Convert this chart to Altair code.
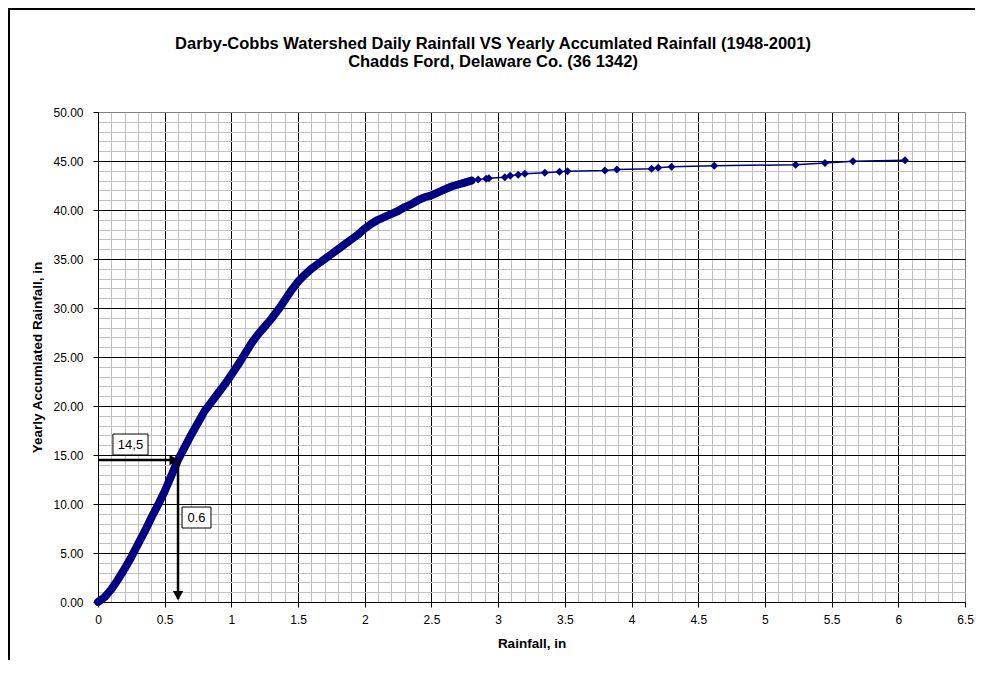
import altair as alt
import pandas as pd

# ---- data ----
rain = [0.00, 0.05, 0.10, 0.15, 0.20, 0.25, 0.30, 0.35, 0.40, 0.45, 0.50, 0.55,
        0.60, 0.65, 0.70, 0.75, 0.80, 0.85, 0.90, 0.95, 1.00, 1.05, 1.10, 1.15,
        1.20, 1.25, 1.30, 1.35, 1.40, 1.45, 1.50, 1.55, 1.60, 1.65, 1.70, 1.75,
        1.80, 1.85, 1.90, 1.95, 2.00, 2.05, 2.10, 2.15, 2.20, 2.25, 2.30, 2.35,
        2.40, 2.45, 2.50, 2.55, 2.60, 2.65, 2.70, 2.75, 2.80,
        2.85, 2.91, 2.93, 3.05, 3.09, 3.15, 3.20, 3.35, 3.46, 3.52, 3.80, 3.89,
        4.15, 4.20, 4.30, 4.62, 5.23, 5.45, 5.66, 6.05]
accum = [0.0, 0.5, 1.3, 2.3, 3.4, 4.6, 5.9, 7.2, 8.6, 9.9, 11.3, 12.9,
         14.5, 15.8, 17.1, 18.3, 19.5, 20.4, 21.3, 22.2, 23.2, 24.2, 25.3, 26.4,
         27.3, 28.1, 28.9, 29.8, 30.8, 31.8, 32.7, 33.4, 34.0, 34.5, 35.0, 35.5,
         36.0, 36.5, 37.0, 37.5, 38.1, 38.6, 39.0, 39.3, 39.6, 39.9, 40.3, 40.6,
         41.0, 41.3, 41.5, 41.8, 42.1, 42.4, 42.6, 42.8, 43.0,
         43.1, 43.2, 43.25, 43.35, 43.5, 43.6, 43.7, 43.8, 43.9, 43.95, 44.04, 44.14,
         44.21, 44.32, 44.42, 44.52, 44.62, 44.79, 44.97, 45.07]

title_line1 = "Darby-Cobbs Watershed Daily Rainfall VS Yearly Accumlated Rainfall (1948-2001)"
title_line2 = "Chadds Ford, Delaware Co. (36 1342)"

# annotation arrows (data coordinates)
arrow_x = [0.0, 0.6]
arrow_x2 = [0.585, 0.6]
arrow_y = [14.5, 14.5]
arrow_y2 = [14.5, 0.3]
head_x = [0.57, 0.6]
head_y = [14.5, 0.65]
head_shape = ["triangle-right", "triangle-down"]

# annotation label boxes
box_label = ["14,5", "0.6"]
box_x1 = [0.112, 0.63]
box_x2 = [0.375, 0.847]
box_y1 = [15.0, 7.55]
box_y2 = [17.14, 9.69]

x_ticks = [round(i * 0.1, 1) for i in range(66)]
y_ticks = list(range(0, 51))

df = pd.DataFrame({"x": rain, "y": accum})
arrows = pd.DataFrame({"x": arrow_x, "x2": arrow_x2, "y": arrow_y, "y2": arrow_y2})
heads = pd.DataFrame({"x": head_x, "y": head_y, "shape": head_shape})
boxes = pd.DataFrame({"label": box_label, "x": box_x1, "x2": box_x2,
                      "y": box_y1, "y2": box_y2})
boxes["xc"] = (boxes["x"] + boxes["x2"]) / 2
boxes["yc"] = (boxes["y"] + boxes["y2"]) / 2

FONT = "Liberation Sans"
NAVY = "#000080"

x_major = "abs(datum.value*2 - round(datum.value*2)) < 0.000001"
y_major = "abs(datum.value/5 - round(datum.value/5)) < 0.000001"

x_scale = alt.Scale(domain=[0, 6.5], nice=False, zero=False)
y_scale = alt.Scale(domain=[0, 50], nice=False, zero=False)

x_axis = alt.Axis(
    values=x_ticks, tickCount=len(x_ticks), title="Rainfall, in",
    labelExpr=f"{x_major} ? datum.label : ''",
    format="~g", labelOverlap=False, labelFlush=False,
    grid=True,
    gridColor={"condition": [{"test": "datum.value > 6.45", "value": "#808080"},
                             {"test": x_major, "value": "#000000"}],
               "value": "#c0c0c0"},
    gridWidth=1,
    tickColor={"condition": {"test": x_major, "value": "#000000"}, "value": "transparent"},
    tickSize=5, domainColor="#000000", domainWidth=1,
    labelFont=FONT, labelFontSize=12, labelColor="#000000", labelPadding=7,
    titleFont=FONT, titleFontSize=13.5, titleFontWeight="bold", titleColor="#000000",
    titlePadding=11,
)
y_axis = alt.Axis(
    values=y_ticks, tickCount=len(y_ticks), title="Yearly Accumlated Rainfall, in",
    labelExpr=f"{y_major} ? datum.label : ''",
    format=".2f", labelOverlap=False, labelFlush=False,
    grid=True,
    gridColor={"condition": [{"test": "datum.value > 49.5", "value": "#808080"},
                             {"test": y_major, "value": "#000000"}],
               "value": "#c0c0c0"},
    gridWidth=1,
    tickColor={"condition": {"test": y_major, "value": "#000000"}, "value": "transparent"},
    tickSize=5, domainColor="#000000", domainWidth=1,
    labelFont=FONT, labelFontSize=12, labelColor="#000000", labelPadding=10,
    titleFont=FONT, titleFontSize=13.5, titleFontWeight="bold", titleColor="#000000",
    titlePadding=8,
)

base = alt.Chart(df).encode(
    x=alt.X("x:Q", scale=x_scale, axis=x_axis),
    y=alt.Y("y:Q", scale=y_scale, axis=y_axis),
)

dense = base.transform_filter("datum.x <= 2.82").mark_line(
    color=NAVY, strokeWidth=8, strokeJoin="round", strokeCap="round")
thin = base.mark_line(color=NAVY, strokeWidth=1.5)
pts = base.mark_point(shape="diamond", filled=True, color=NAVY, size=64, opacity=1)

rules = alt.Chart(arrows).mark_rule(color="black", strokeWidth=2.5).encode(
    x=alt.X("x:Q", scale=x_scale), x2="x2:Q",
    y=alt.Y("y:Q", scale=y_scale), y2="y2:Q",
)
arrowheads = alt.Chart(heads).mark_point(filled=True, color="black", size=110, opacity=1).encode(
    x=alt.X("x:Q", scale=x_scale), y=alt.Y("y:Q", scale=y_scale),
    shape=alt.Shape("shape:N", scale=None, legend=None),
)
box_rects = alt.Chart(boxes).mark_rect(fill="white", stroke="black", strokeWidth=1).encode(
    x=alt.X("x:Q", scale=x_scale), x2="x2:Q",
    y=alt.Y("y:Q", scale=y_scale), y2="y2:Q",
)
box_text = alt.Chart(boxes).mark_text(font=FONT, fontSize=13, color="black",
                                      align="center", baseline="middle").encode(
    x=alt.X("xc:Q", scale=x_scale), y=alt.Y("yc:Q", scale=y_scale),
    text="label:N",
)

def title_layer(txt, ypix):
    return alt.Chart(pd.DataFrame({"t": [txt]})).mark_text(
        font=FONT, fontSize=16.5, fontWeight="bold", color="black",
        align="center", baseline="middle").encode(
        x=alt.value(395), y=alt.value(ypix), text="t:N")

t1 = title_layer(title_line1, -68)
t2 = title_layer(title_line2, -50)

frame = alt.Chart(pd.DataFrame({"k": [0]})).mark_rect(
    filled=False, stroke="black", strokeWidth=2).encode(
    x=alt.value(-89), x2=alt.value(920), y=alt.value(-103), y2=alt.value(620),
)

chart = alt.layer(
    frame, dense, thin, pts, rules, arrowheads, box_rects, box_text, t1, t2
).properties(
    width=867, height=490,
    autosize=alt.AutoSizeParams(type="none"),
    padding={"left": 90, "top": 104, "right": 10, "bottom": 58},
).configure_view(stroke="#808080", strokeWidth=1).configure(background="white")

chart.save("out.html", embed_options={"renderer": "svg", "actions": False})
